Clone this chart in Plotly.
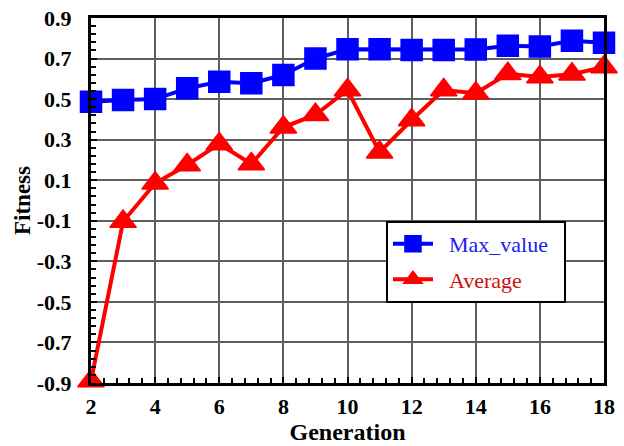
import plotly.graph_objects as go

generation = [2, 3, 4, 5, 6, 7, 8, 9, 10, 11, 12, 13, 14, 15, 16, 17, 18]
max_value = [0.487, 0.496, 0.50, 0.553, 0.586, 0.578, 0.619, 0.70, 0.746, 0.746,
             0.742, 0.742, 0.745, 0.763, 0.759, 0.788, 0.778]
average = [-0.89, -0.104, 0.085, 0.175, 0.279, 0.18, 0.361, 0.423, 0.545, 0.238,
           0.397, 0.545, 0.529, 0.625, 0.609, 0.623, 0.658]
y_ticks = [-0.9, -0.7, -0.5, -0.3, -0.1, 0.1, 0.3, 0.5, 0.7, 0.9]
x_ticks = [2, 4, 6, 8, 10, 12, 14, 16, 18]

FONT = "Liberation Serif"
PAD = "&nbsp;&nbsp;"

fig = go.Figure()
fig.add_trace(go.Scatter(
    x=generation, y=max_value, mode="lines+markers",
    name=f"{PAD}<span style='color:#2020ee'>Max_value</span>{PAD}",
    line=dict(color="#0000ff", width=4),
    marker=dict(symbol="square", size=21, color="#0000ff",
                line=dict(color="#0000ff", width=1.5)),
    cliponaxis=False, legendgroup="a",
))
fig.add_trace(go.Scatter(
    x=generation, y=average, mode="lines+markers",
    name=f"{PAD}<span style='color:#cc1010'>Average</span>",
    line=dict(color="#ff0000", width=4),
    marker=dict(symbol="triangle-up", size=23, color="#ff0000",
                line=dict(color="#ff0000", width=1.5)),
    cliponaxis=False, legendgroup="b",
))

axis_common = dict(
    showline=True, linecolor="black", linewidth=3, mirror=True,
    showgrid=True, gridcolor="#5e5e5e", gridwidth=2,
    ticks="inside", tickcolor="black", ticklen=6, tickwidth=2,
    tickfont=dict(family=FONT, size=22, color="black", weight="bold"),
    zeroline=False, automargin=False,
)

fig.update_layout(
    width=624, height=446,
    margin=dict(l=91, r=20, t=18, b=63),
    paper_bgcolor="white", plot_bgcolor="white",
    font=dict(family=FONT, color="black"),
    xaxis=dict(
        range=[2, 18], tickmode="array", tickvals=x_ticks,
        ticktext=[str(t) for t in x_ticks],
        minor=dict(dtick=0.4, tick0=2, ticks="inside", ticklen=5, tickwidth=2,
                   tickcolor="black", showgrid=False),
        title=dict(text="<b>Generation</b>", font=dict(family=FONT, size=24, color="black"),
                   standoff=0),
        ticklabelstandoff=2,
        **axis_common,
    ),
    yaxis=dict(
        range=[-0.9, 0.9], tickmode="array", tickvals=y_ticks,
        ticktext=[f"{t:.1f}" for t in y_ticks],
        minor=dict(dtick=0.04, tick0=-0.9, ticks="inside", ticklen=5, tickwidth=2,
                   tickcolor="black", showgrid=False),
        title=dict(text="<b>Fitness</b>", font=dict(family=FONT, size=23, color="black"),
                   standoff=0),
        ticklabelstandoff=12,
        **axis_common,
    ),
    legend=dict(
        x=0.575, y=0.444, xanchor="left", yanchor="top",
        bgcolor="white", bordercolor="black", borderwidth=2,
        font=dict(family=FONT, size=22),
        traceorder="grouped", tracegroupgap=4,
        itemwidth=40,
    ),
)

fig.write_html("out.html", config={"displayModeBar": False},
               post_script="document.body.style.margin='0';")
